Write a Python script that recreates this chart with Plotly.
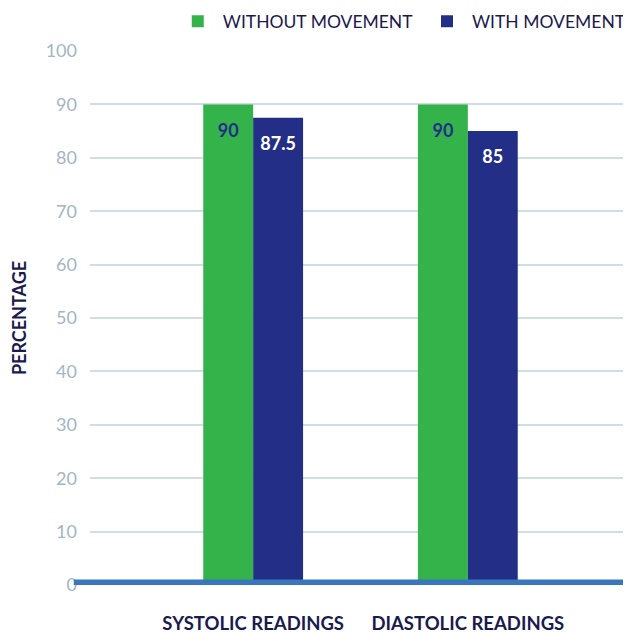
import plotly.graph_objects as go

categories = ["SYSTOLIC READINGS", "DIASTOLIC READINGS"]
without_movement = [90, 90]
with_movement = [87.5, 85]
series_names = ["WITHOUT MOVEMENT", "WITH MOVEMENT"]
y_ticks = [0, 10, 20, 30, 40, 50, 60, 70, 80, 90, 100]

GREEN = "#33b34a"
NAVY = "#232f86"
DARK = "#1b1a4e"
FONT = "Lato, 'Open Sans', sans-serif"
PAD = "<span style='font-size:6px'>\u00a0</span><br>"

fig = go.Figure()
fig.add_trace(go.Bar(
    x=categories, y=without_movement, name=series_names[0], legend="legend",
    marker=dict(color=GREEN, line=dict(width=0)),
    text=[f"{PAD}{v:g}" for v in without_movement], textposition="inside",
    insidetextanchor="end",
    textfont=dict(family=FONT, size=18, color=NAVY, weight="bold"),
))
fig.add_trace(go.Bar(
    x=categories, y=with_movement, name=series_names[1], legend="legend2",
    marker=dict(color=NAVY, line=dict(width=0)),
    text=[f"{PAD}{v:g}" for v in with_movement], textposition="inside",
    insidetextanchor="end",
    textfont=dict(family=FONT, size=18, color="white", weight="bold"),
))

fig.add_shape(type="line", xref="paper", yref="y", x0=-0.03, x1=1, y0=0, y1=0,
              line=dict(color="#3a76bb", width=11), layer="above")

legend_style = dict(orientation="h", yanchor="bottom", y=1.022,
                    font=dict(family=FONT, size=17.5, color=DARK),
                    itemwidth=40, bgcolor="rgba(0,0,0,0)")

# page body has an 8px margin; size the figure so it ends at the window edge
fig.update_layout(
    width=623, height=624,
    margin=dict(l=82, r=0, t=43, b=47, autoexpand=False),
    paper_bgcolor="white", plot_bgcolor="white",
    barmode="group", bargap=0.535, bargroupgap=0,
    showlegend=True,
    legend=dict(x=0.153, xanchor="left", **legend_style),
    legend2=dict(x=1.0, xanchor="right", **legend_style),
    font=dict(family=FONT),
    uniformtext=dict(mode=False),
)
fig.update_xaxes(
    range=[-0.76, 1.76], showgrid=False, zeroline=False, showline=False,
    ticks="", ticklabelstandoff=25, automargin=False,
    tickfont=dict(family=FONT, size=18.5, color=DARK, weight="bold"),
)
fig.update_yaxes(
    range=[0, 100], tickvals=y_ticks, showgrid=True, gridcolor="#cfdde5", gridwidth=1.5,
    zeroline=False, showline=False, ticks="", ticklabelstandoff=12, automargin=False,
    tickfont=dict(family=FONT, size=18, color="#a3b6c2"),
    title=dict(text="PERCENTAGE", standoff=16,
               font=dict(family=FONT, size=18, color=DARK, weight="bold")),
)

fig.write_html("out.html")
